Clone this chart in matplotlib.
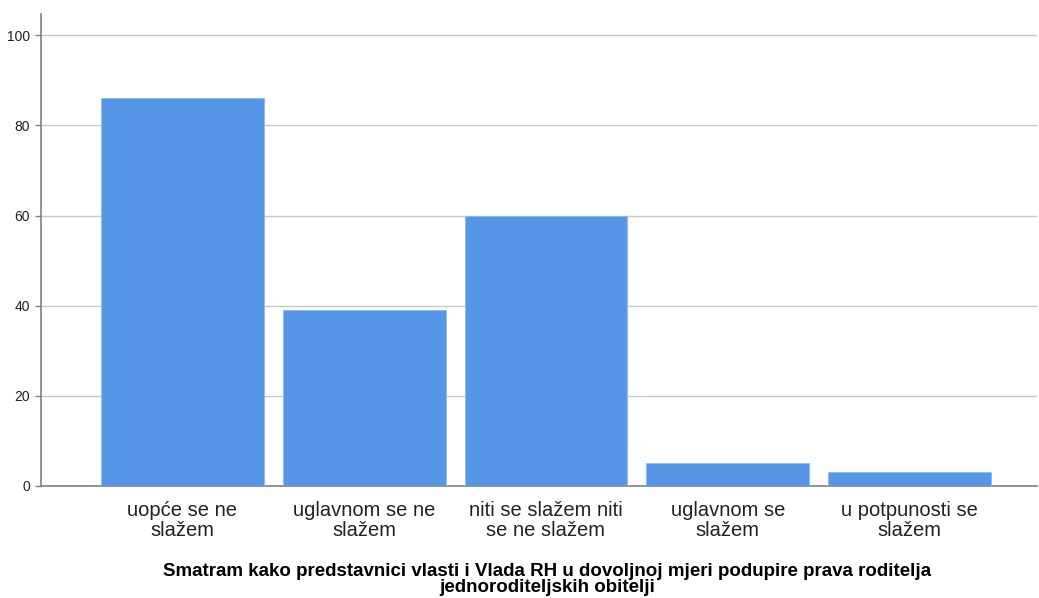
import matplotlib.pyplot as plt
import numpy as np

plt.rcParams['font.family'] = ['Liberation Sans', 'DejaVu Sans']

categories = ['uopće se ne\nslažem', 'uglavnom se ne\nslažem', 'niti se slažem niti\nse ne slažem',
              'uglavnom se\nslažem', 'u potpunosti se\nslažem']
values = [86, 39, 60, 5, 3]
yticks = [0, 20, 40, 60, 80, 100]
title = 'Smatram kako predstavnici vlasti i Vlada RH u dovoljnoj mjeri podupire prava roditelja\njednoroditeljskih obitelji'

fig = plt.figure(figsize=(10.39, 5.98), dpi=100)
ax = fig.add_axes([0.0395, 0.1873, 0.9585, 0.7893])

x = np.arange(len(categories))
ax.bar(x, values, width=0.895, color='#5596e6', edgecolor='#8fb9ee', linewidth=0.6, zorder=3)

ax.set_ylim(0, 104.7)
ax.set_xlim(-0.777, 4.7)
ax.set_yticks(yticks)
ax.set_yticklabels([str(t) for t in yticks], fontsize=10)
ax.set_xticks(x)
ax.set_xticklabels(categories, fontsize=14.5, linespacing=1.08)
ax.tick_params(axis='x', length=0, pad=11, colors='#222222')
ax.tick_params(axis='y', length=4, width=1, color='#808080', direction='out', pad=4, labelcolor='#222222')
ax.grid(axis='y', color='#c8c8c8', linewidth=1, zorder=0)

for s in ['top', 'right']:
    ax.spines[s].set_visible(False)
ax.spines['left'].set_color('#808080')
ax.spines['bottom'].set_color('#808080')
ax.spines['left'].set_linewidth(1.2)
ax.spines['bottom'].set_linewidth(1.2)

fig.text(0.5265, 0.003, title, ha='center', va='bottom', fontsize=13.5, fontweight='bold',
         linespacing=0.92, color='black')

fig.savefig('out.png', dpi=100)
